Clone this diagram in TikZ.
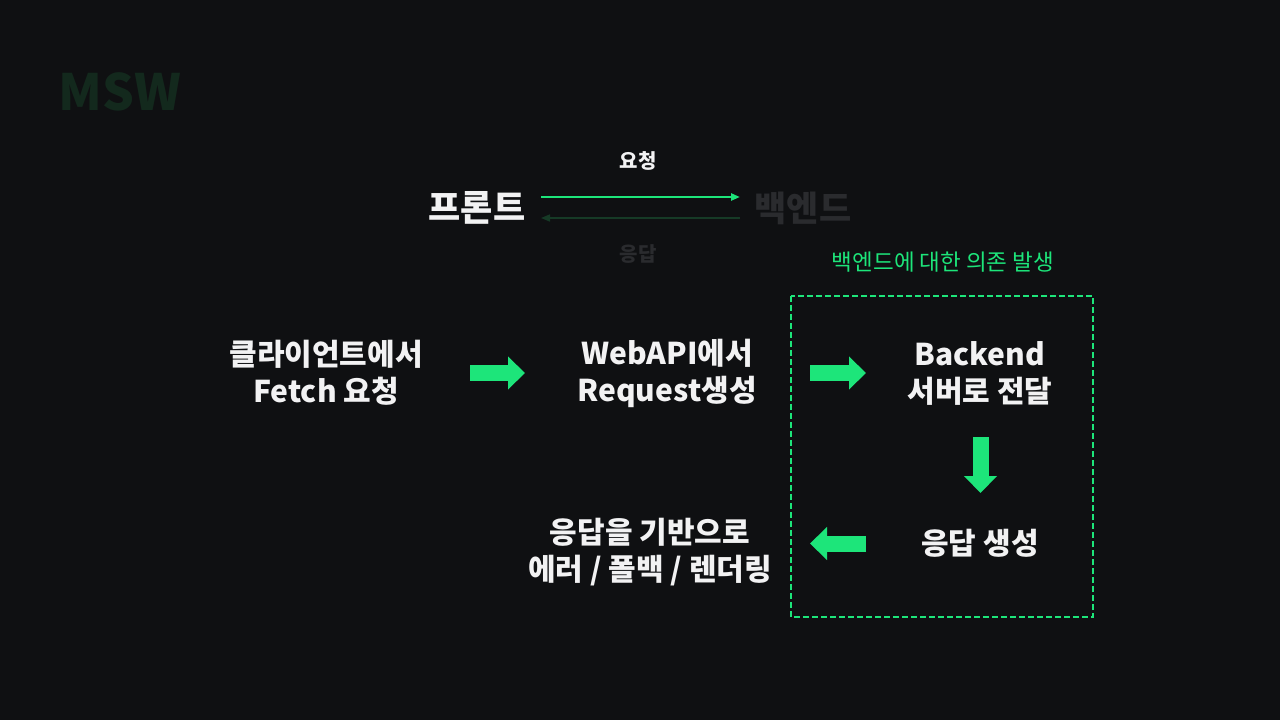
\documentclass[tikz,border=0pt]{standalone}
\usepackage{fontspec}
\setmainfont{Noto Sans CJK KR}
\usetikzlibrary{arrows.meta}
\definecolor{bg}{HTML}{0F1012}
\definecolor{mint}{HTML}{1DE57A}
\definecolor{txt}{HTML}{F2F2F3}
\definecolor{dim}{HTML}{2A2B2E}
\definecolor{dimgreen}{HTML}{163A26}
\definecolor{logo}{HTML}{13291D}
\tikzset{
  maintext/.style={text=txt, align=center, font=\bfseries\fontsize{30}{37}\selectfont, inner sep=0pt},
  blockarrow/.style={draw=mint, line width=16pt, -{Triangle[length=17pt,width=32pt]}},
  thinarrow/.style={line width=2.2pt, -{Triangle[length=9pt,width=7pt]}},
}
\begin{document}
\begin{tikzpicture}[x=1pt,y=-1pt]
\fill[bg] (0,0) rectangle (1280,720);
\useasboundingbox (0,0) rectangle (1280,720);

\node[text=logo, font=\bfseries\fontsize{50}{50}\selectfont, inner sep=0pt] (msw) at (120,92) {MSW};

\node[text=txt, font=\bfseries\fontsize{35}{35}\selectfont, inner sep=0pt] (front) at (477,208) {프론트};
\node[text=dim, font=\bfseries\fontsize{35}{35}\selectfont, inner sep=0pt] (back) at (803,208) {백엔드};
\node[text=txt, font=\bfseries\fontsize{20}{20}\selectfont, inner sep=0pt] (req) at (638,161) {요청};
\node[text=dim, font=\bfseries\fontsize{20}{20}\selectfont, inner sep=0pt] (res) at (638,254) {응답};

\coordinate (t1) at (541,197);
\coordinate (t2) at (740,197);
\coordinate (b1) at (740,218);
\coordinate (b2) at (541,218);
\draw[thinarrow, mint] (t1) -- (t2);
\draw[thinarrow, dimgreen, line width=1.6pt] (b1) -- (b2);

\node[text=mint, font=\fontsize{22.5}{22.5}\selectfont, inner sep=0pt] (dep) at (943,262) {백엔드에 대한 의존 발생};
\draw[mint, line width=2pt, dash pattern=on 6pt off 3pt] (791,296) rectangle (1093,617);

\node[maintext] (n1) at (326,373) {클라이언트에서\\Fetch 요청};
\node[maintext] (n2) at (667,373) {WebAPI에서\\Request생성};
\node[maintext] (n3) at (980,373) {Backend\\서버로 전달};
\node[maintext] (n4) at (980,543) {응답 생성};
\node[maintext] (n5) at (650,552) {응답을 기반으로\\에러 / 폴백 / 렌더링};

\coordinate (a1s) at (470,373); \coordinate (a1e) at (525,373);
\coordinate (a2s) at (810,373); \coordinate (a2e) at (866,373);
\coordinate (a3s) at (980.5,437); \coordinate (a3e) at (980.5,493);
\coordinate (a4s) at (866,543.5); \coordinate (a4e) at (810,543.5);
\draw[blockarrow] (a1s) -- (a1e);
\draw[blockarrow] (a2s) -- (a2e);
\draw[blockarrow] (a3s) -- (a3e);
\draw[blockarrow] (a4s) -- (a4e);
\end{tikzpicture}
\end{document}
